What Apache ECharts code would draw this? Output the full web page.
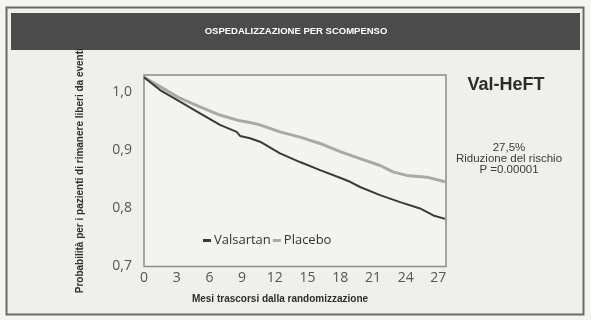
<!DOCTYPE html>
<html>
<head>
<meta charset="utf-8">
<script src="https://cdn.jsdelivr.net/npm/echarts@6/dist/echarts.min.js"></script>
<style>
html,body{margin:0;padding:0;background:#f4f4f1;}
#chart{width:591px;height:320px;}
</style>
</head>
<body>
<div id="chart"></div>
<script>
// Months since randomization (x) and survival probability (y)
const valsartanMonths = [0, 1.47, 3.30, 5.14, 6.97, 8.50, 8.81, 9.72, 10.64, 12.48, 14.31, 16.15, 17.98, 18.90, 19.82, 21.65, 23.49, 25.32, 26.54, 27.61];
const valsartanValues = [1.026, 1.004, 0.984, 0.964, 0.944, 0.932, 0.925, 0.921, 0.915, 0.895, 0.880, 0.866, 0.853, 0.846, 0.837, 0.823, 0.811, 0.800, 0.788, 0.782];
const placeboMonths = [0, 1.47, 3.30, 5.14, 6.97, 8.81, 9.72, 10.64, 12.48, 14.31, 16.15, 17.98, 18.90, 19.82, 21.65, 22.84, 24.10, 25.94, 27.61];
const placeboValues = [1.026, 1.010, 0.990, 0.975, 0.961, 0.951, 0.948, 0.944, 0.932, 0.923, 0.912, 0.898, 0.892, 0.886, 0.874, 0.863, 0.857, 0.854, 0.846];
const xTicks = [0, 3, 6, 9, 12, 15, 18, 21, 24, 27];
const yTickLabels = {0.7: '0,7', 0.8: '0,8', 0.9: '0,9', 1.0: '1,0'};
const seriesNames = ['Valsartan', 'Placebo'];
const titleText = 'OSPEDALIZZAZIONE PER SCOMPENSO';
const studyName = 'Val-HeFT';
const noteLines = ['27,5%', 'Riduzione del rischio', 'P =0.00001'];
const xTitle = 'Mesi trascorsi dalla randomizzazione';
const yTitle = 'Probabilità per i pazienti di rimanere liberi da eventi';

const pair = (xs, ys) => xs.map((x, i) => [x, ys[i]]);

const chart = echarts.init(document.getElementById('chart'), null, {renderer: 'canvas'});
chart.setOption({
  animation: false,
  backgroundColor: '#f4f4f1',
  textStyle: {fontFamily: 'Liberation Sans, Arial, sans-serif'},
  graphic: [
    {type: 'rect', z: -10, shape: {x: 6.5, y: 7.5, width: 577, height: 307},
     style: {fill: '#efefeb', stroke: '#6a6a6a', lineWidth: 2}},
    {type: 'rect', z: -9, shape: {x: 11, y: 13, width: 569, height: 37},
     style: {fill: '#4b4b4b'}},
    {type: 'text', z: 5, x: 296, y: 31,
     style: {text: titleText, fill: '#ffffff', align: 'center', verticalAlign: 'middle',
             font: 'bold 9.5px "Liberation Sans", Arial, sans-serif'}},
    {type: 'text', z: 5, x: 506, y: 85,
     style: {text: studyName, fill: '#2a2a2a', align: 'center', verticalAlign: 'middle',
             font: 'bold 18px "Liberation Sans Narrow", "Liberation Sans", Arial, sans-serif'}},
    {type: 'text', z: 5, x: 509, y: 158.5,
     style: {text: noteLines.join('\n'), fill: '#3a3a3a', align: 'center', verticalAlign: 'middle',
             lineHeight: 11, font: '11.5px "Liberation Sans", Arial, sans-serif'}},
    {type: 'text', z: 5, x: 280, y: 299,
     style: {text: xTitle, fill: '#2e2e2e', align: 'center', verticalAlign: 'middle',
             font: 'bold 10px "Liberation Sans", Arial, sans-serif'}}
  ],
  grid: {left: 144, right: 145, top: 75, bottom: 53.5, show: true,
         borderColor: '#8c8c8c', borderWidth: 1.5, backgroundColor: '#f3f3f0'},
  legend: {
    left: 198, top: 229, itemGap: 2, itemWidth: 8, itemHeight: 3, icon: 'rect',
    data: seriesNames,
    textStyle: {fontFamily: '"Open Sans", sans-serif', fontSize: 13, color: '#333', padding: [0, 0, 0, -2]}
  },
  xAxis: {
    type: 'value', min: 0, max: 27.7, interval: 3,
    axisLine: {show: false}, axisTick: {show: false}, splitLine: {show: false},
    axisLabel: {color: '#555', fontSize: 14, margin: 5, fontFamily: '"Open Sans", sans-serif',
      showMaxLabel: false,
      formatter: v => xTicks.includes(v) ? String(v) : ''}
  },
  yAxis: {
    type: 'value', min: 0.7, max: 1.03, interval: 0.1,
    name: yTitle, nameLocation: 'middle', nameRotate: 90, nameGap: 59,
    nameTextStyle: {fontFamily: '"Liberation Sans Narrow", "Liberation Sans", Arial, sans-serif', fontWeight: 'bold', fontSize: 10, color: '#2e2e2e'},
    axisLine: {show: false}, axisTick: {show: false}, splitLine: {show: false},
    axisLabel: {color: '#555', fontSize: 14, margin: 12, fontFamily: '"Open Sans", sans-serif',
      showMaxLabel: false,
      formatter: v => yTickLabels[Math.round(v * 10) / 10] || ''}
  },
  series: [
    {name: seriesNames[0], type: 'line', showSymbol: false, symbol: 'none',
     data: pair(valsartanMonths, valsartanValues), z: 3,
     itemStyle: {color: '#3a3a3a'}, lineStyle: {color: '#3a3a3a', width: 2}},
    {name: seriesNames[1], type: 'line', showSymbol: false, symbol: 'none',
     data: pair(placeboMonths, placeboValues), z: 2,
     itemStyle: {color: '#a9a9a9'}, lineStyle: {color: '#a9a9a9', width: 3}}
  ]
});
</script>
</body>
</html>
